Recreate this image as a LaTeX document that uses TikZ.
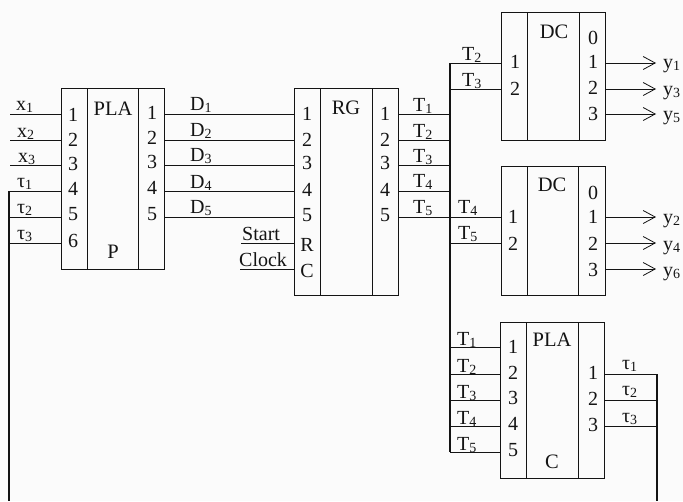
\documentclass[tikz,border=0pt]{standalone}
\usepackage{fontspec}
\setmainfont{Liberation Serif}
\usetikzlibrary{arrows.meta}
\newcommand{\lab}[2]{#1\raisebox{-0.25ex}{\fontsize{14}{14}\selectfont #2}}
\definecolor{ink}{gray}{0.08}
\tikzset{
  x=1pt,y=-1pt,
  every node/.style={text=ink},
  block/.style={draw=ink,line width=0.9pt,rectangle,anchor=north west,inner sep=0pt,outer sep=0pt},
  divider/.style={draw=ink,line width=0.9pt},
  wire/.style={draw=ink,line width=0.9pt},
  bus/.style={draw=ink,line width=1.7pt},
  outwire/.style={draw=ink,line width=0.9pt,-{Straight Barb[length=12pt,width=13pt,line width=0.8pt]}},
  pinlabel/.style={inner sep=0pt,font=\fontsize{20}{20}\selectfont},
  title/.style={inner sep=0pt,font=\fontsize{20.5}{21}\selectfont},
  siglabel/.style={inner sep=0pt,anchor=base west,font=\fontsize{20}{20}\selectfont},
}
\newcommand{\mkblock}[7]{% name,x0,y0,x1,y1,d1,d2
  \node[block,minimum width=#4pt-#2pt,minimum height=#5pt-#3pt] (#1) at (#2,#3) {};
  \draw[divider] (#6,#3) -- (#6,#5);
  \draw[divider] (#7,#3) -- (#7,#5);
}
\begin{document}
\begin{tikzpicture}
\useasboundingbox (0,0) rectangle (683,501);
\fill[gray!3] (0,0) rectangle (683,501);

\mkblock{plap}{61}{88.5}{164}{269}{87}{138}
\mkblock{rg}{294}{88.5}{398}{295}{320}{372}
\mkblock{dca}{501.5}{12}{605}{140}{527}{579}
\mkblock{dcb}{501}{166}{605}{295}{527}{578}
\mkblock{plac}{500}{322}{604.5}{478}{526}{578}

% block titles
\node[title] (tp) at (113,109) {PLA};
\node[title] (tpb) at (113,252) {P};
\node[title] (trg) at (346,108) {RG};
\node[title] (tda) at (554,32) {DC};
\node[title] (tdb) at (552,185) {DC};
\node[title] (tc) at (552,340) {PLA};
\node[title] (tcb) at (552,462) {C};

% pin labels
\foreach \t/\y [count=\i] in {1/115,2/140,3/164,4/189,5/214,6/241}
  \node[pinlabel] (pl\i) at (73,\y) {\t};
\foreach \t/\y [count=\i] in {1/113,2/138,3/162,4/188,5/214}
  \node[pinlabel] (pr\i) at (152,\y) {\t};
\foreach \t/\y [count=\i] in {1/114,2/140,3/163,4/190,5/215,R/245,C/271}
  \node[pinlabel] (rl\i) at (307,\y) {\t};
\foreach \t/\y [count=\i] in {1/114,2/140,3/163,4/190,5/215}
  \node[pinlabel] (rr\i) at (385,\y) {\t};
\foreach \t/\y [count=\i] in {1/62,2/89}
  \node[pinlabel] (al\i) at (515,\y) {\t};
\foreach \t/\y [count=\i] in {0/38,1/62,2/88,3/114}
  \node[pinlabel] (ar\i) at (593,\y) {\t};
\foreach \t/\y [count=\i] in {1/217,2/244}
  \node[pinlabel] (bl\i) at (513,\y) {\t};
\foreach \t/\y [count=\i] in {0/193,1/217,2/244,3/270}
  \node[pinlabel] (br\i) at (593,\y) {\t};
\foreach \t/\y [count=\i] in {1/347,2/373,3/398,4/424,5/450}
  \node[pinlabel] (cl\i) at (513,\y) {\t};
\foreach \t/\y [count=\i] in {1/373,2/399,3/425}
  \node[pinlabel] (cr\i) at (593,\y) {\t};

% connection points
\foreach \n/\y in {1/114,2/140,3/165,4/191,5/217,6/243}{
  \coordinate (pin\n) at (61,\y);
  \coordinate (xin\n) at (10,\y);
  \coordinate (tb\n) at (9,\y);
}
\foreach \n/\y in {1/114,2/140,3/165,4/191,5/217}{
  \coordinate (pout\n) at (164,\y);
  \coordinate (rin\n) at (294,\y);
  \coordinate (rout\n) at (398,\y);
  \coordinate (bt\n) at (450,\y);
}
\coordinate (rinR) at (294,243);
\coordinate (rinC) at (294,269);
\coordinate (startw) at (241,243);
\coordinate (clockw) at (240,269);
\coordinate (bustop) at (450,63);
\coordinate (busbot) at (450,452);
\coordinate (taubot) at (9,501);
\coordinate (ctop) at (657,374);
\coordinate (cbot) at (657,501);

% buses
\draw[bus] (tb4) -- (taubot);
\draw[bus] (bustop) -- (busbot);
\draw[bus] (ctop) -- (cbot);

% PLA P inputs
\foreach \n in {1,2,3} \draw[wire] (xin\n) -- (pin\n);
\foreach \n in {4,5,6} \draw[wire] (tb\n) -- (pin\n);
% D lines, T lines
\foreach \n in {1,...,5} {
  \draw[wire] (pout\n) -- (rin\n);
  \draw[wire] (rout\n) -- (bt\n);
}
\draw[wire] (startw) -- (rinR);
\draw[wire] (clockw) -- (rinC);

% DC inputs
\coordinate (ba2) at (450,89);
\coordinate (bb2) at (450,243);
\draw[wire] (bustop) -- (bustop -| dca.west);
\draw[wire] (ba2) -- (ba2 -| dca.west);
\draw[wire] (bt5) -- (bt5 -| dcb.west);
\draw[wire] (bb2) -- (bb2 -| dcb.west);

% DC outputs
\foreach \y in {63,89,114,217,243,269}{
  \coordinate (os) at (605,\y);
  \coordinate (oe) at (656,\y);
  \draw[outwire] (os) -- (oe);
}

% PLA C inputs/outputs
\foreach \y in {347,374,400,426,452}{
  \coordinate (cb) at (450,\y);
  \draw[wire] (cb) -- (cb -| plac.west);
}
\foreach \y in {374,400,426}{
  \coordinate (co) at (604.5,\y);
  \draw[wire] (co) -- (ctop |- co);
}

% signal labels
\node[siglabel] (sx1) at (16,110) {\lab{x}{1}};
\node[siglabel] (sx2) at (17,137) {\lab{x}{2}};
\node[siglabel] (sx3) at (18,162) {\lab{x}{3}};
\node[siglabel] (st1) at (17,187) {\lab{τ}{1}};
\node[siglabel] (st2) at (17,213) {\lab{τ}{2}};
\node[siglabel] (st3) at (17,239) {\lab{τ}{3}};
\foreach \n/\y in {1/110,2/136,3/161,4/188,5/213}
  \node[siglabel] (sd\n) at (190,\y) {\lab{D}{\n}};
\node[siglabel] (sstart) at (242,240) {Start};
\node[siglabel] (sclock) at (239,266) {Clock};
\foreach \n/\y in {1/111,2/137,3/162,4/187,5/213}
  \node[siglabel] (sr\n) at (413,\y) {\lab{T}{\n}};
\node[siglabel] (ta2) at (462,60) {\lab{T}{2}};
\node[siglabel] (ta3) at (462,86) {\lab{T}{3}};
\node[siglabel] (tb4l) at (458,213) {\lab{T}{4}};
\node[siglabel] (tb5l) at (458,239) {\lab{T}{5}};
\foreach \n/\y in {1/345,2/372,3/398,4/424,5/450}
  \node[siglabel] (tc\n) at (457,\y) {\lab{T}{\n}};
\foreach \n/\y in {1/369,2/395,3/422}
  \node[siglabel] (tco\n) at (622,\y) {\lab{τ}{\n}};
\node[siglabel] (y1) at (663,68) {\lab{y}{1}};
\node[siglabel] (y3) at (663,95) {\lab{y}{3}};
\node[siglabel] (y5) at (663,120) {\lab{y}{5}};
\node[siglabel] (y2) at (663,223) {\lab{y}{2}};
\node[siglabel] (y4) at (663,250) {\lab{y}{4}};
\node[siglabel] (y6) at (663,276) {\lab{y}{6}};
\end{tikzpicture}
\end{document}
